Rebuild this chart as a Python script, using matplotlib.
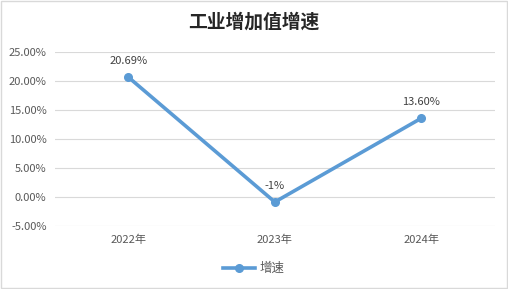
import matplotlib.pyplot as plt
from matplotlib.ticker import FuncFormatter

plt.rcParams['font.family'] = ['Noto Sans CJK SC', 'DejaVu Sans']

# 数据
years = ['2022年', '2023年', '2024年']
growth = [20.69, -0.86, 13.60]
point_labels = ['20.69%', '-1%', '13.60%']

fig = plt.figure(figsize=(5.08, 2.89), dpi=100)
ax = fig.add_axes([0.108, 0.218, 0.866, 0.602])

x = range(len(years))
ax.plot(x, growth, color='#5B9BD5', linewidth=2.6, marker='o', markersize=5.5,
        label='增速', zorder=3)
for xi, v, t in zip(x, growth, point_labels):
    ax.annotate(t, (xi, v), xytext=(0, 8), textcoords='offset points',
                ha='center', va='bottom', fontsize=8, color='#404040')

ax.set_xlim(-0.5, 2.5)
ax.set_ylim(-5, 25)
ax.set_yticks(range(-5, 30, 5))
ax.yaxis.set_major_formatter(FuncFormatter(lambda v, p: '%.2f%%' % v))
ax.set_xticks(list(x))
ax.set_xticklabels(years)
ax.tick_params(length=0, labelsize=8, colors='#595959', pad=6)
ax.grid(axis='y', color='#D9D9D9', linewidth=0.8)
for s in ['top', 'right', 'left', 'bottom']:
    ax.spines[s].set_visible(False)
ax.set_axisbelow(True)

fig.suptitle('工业增加值增速', x=0.5, y=0.955, fontsize=13.5, fontweight='bold', color='#262626')

fig.legend(loc='center', bbox_to_anchor=(0.5, 0.07), frameon=False, fontsize=9,
           handlelength=2.5, handletextpad=0.4, labelcolor='#595959')

# 外框
fig.patches.append(plt.Rectangle((0.001, 0.002), 0.997, 0.995, transform=fig.transFigure,
                                 fill=False, edgecolor='#D9D9D9', linewidth=1))

fig.savefig('out.png', dpi=100)
